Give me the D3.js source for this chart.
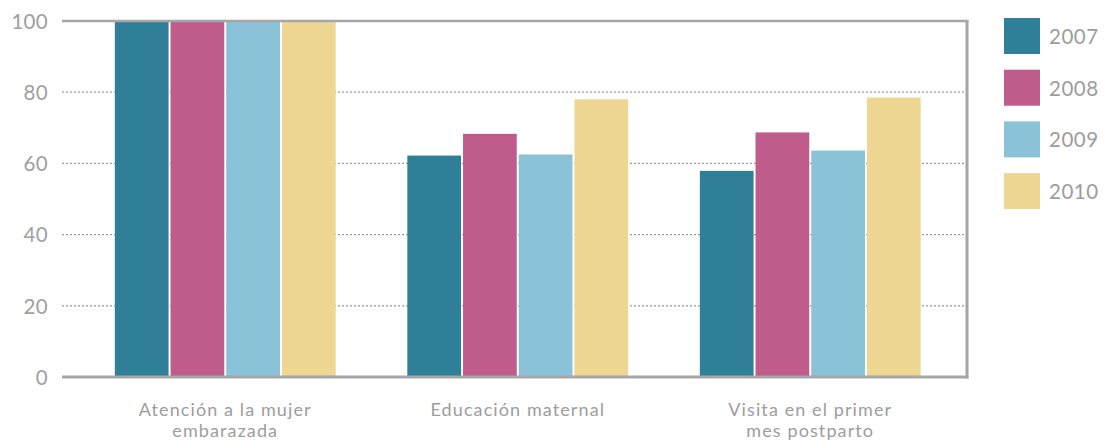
<!DOCTYPE html>
<html><head><meta charset="utf-8">
<script src="https://cdn.jsdelivr.net/npm/d3@7"></script>
<style>body{margin:0;background:#fff}svg{display:block}text{font-family:Lato,"Open Sans",sans-serif;fill:#9d9d9d}</style>
</head><body><svg id="c" width="1106" height="443"></svg>
<script>
const categories = [["Atención a la mujer","embarazada"],["Educación maternal"],["Visita en el primer","mes postparto"]];
const years = ["2007","2008","2009","2010"];
const v2007 = [100, 62.2, 57.9];
const v2008 = [100, 68.3, 68.7];
const v2009 = [100, 62.5, 63.6];
const v2010 = [100, 78.0, 78.5];
const yTicks = [0,20,40,60,80,100];
const colors = ["#2e7f97","#c05c8c","#8ac2d7","#edd792"];
const series = [v2007,v2008,v2009,v2010];

(function(){
const svg = d3.select("#c");
const pL=62, pR=967, pT=21, pB=377;
const y = d3.scaleLinear().domain([0,100]).range([pB,pT]);
const x0 = d3.scaleBand().domain(d3.range(categories.length)).range([79,956.5]).paddingInner(0.245).paddingOuter(0.1225);
const x1 = d3.scaleBand().domain(d3.range(years.length)).range([0,x0.bandwidth()]).paddingInner(0.035);

svg.append("g").selectAll("line").data(yTicks.filter(t=>t>0&&t<100)).join("line")
  .attr("x1",pL).attr("x2",pR).attr("y1",d=>y(d)).attr("y2",d=>y(d))
  .attr("stroke","#9a9a9a").attr("stroke-width",1.2).attr("stroke-dasharray","2,2");

const g = svg.append("g");
categories.forEach((c,i)=>{
  series.forEach((s,j)=>{
    g.append("rect").attr("x",x0(i)+x1(j)).attr("width",x1.bandwidth())
      .attr("y",y(s[i])).attr("height",y(0)-y(s[i])).attr("fill",colors[j]);
  });
});

svg.append("line").attr("x1",pL).attr("x2",pR+1.5).attr("y1",pT).attr("y2",pT).attr("stroke","#a6a6a6").attr("stroke-width",2.5);
svg.append("line").attr("x1",pL).attr("x2",pR+1.5).attr("y1",pB).attr("y2",pB).attr("stroke","#a6a6a6").attr("stroke-width",3);
svg.append("line").attr("x1",pR).attr("x2",pR).attr("y1",pT-1).attr("y2",pB+1.5).attr("stroke","#a6a6a6").attr("stroke-width",3);

const yAxis = d3.axisLeft(y).tickValues(yTicks).tickSize(0).tickPadding(0);
const ya = svg.append("g").attr("transform",`translate(48,0)`).call(yAxis);
ya.select(".domain").remove();
ya.selectAll("text").style("font-size","20.5px").style("fill","#a0a0a0").attr("dy","0.36em")
  .style("font-family","Lato,'Open Sans',sans-serif").style("letter-spacing","0.3px");

categories.forEach((c,i)=>{
  const cx = x0(i)+x0.bandwidth()/2;
  const t = svg.append("text").attr("x",cx).attr("y",416).attr("text-anchor","middle")
    .style("font-size","18px").style("letter-spacing","1.1px");
  c.forEach((l,k)=>t.append("tspan").attr("x",cx).attr("dy",k?21:0).text(l));
});

const lg = svg.append("g");
years.forEach((yr,j)=>{
  lg.append("rect").attr("x",1004).attr("y",18+j*51.7).attr("width",36).attr("height",36).attr("fill",colors[j]);
  lg.append("text").attr("x",1049).attr("y",36.5+j*51.7).attr("dy","0.36em").style("font-size","20.5px")
    .style("letter-spacing","0.5px").text(yr);
});
})();
</script></body></html>
